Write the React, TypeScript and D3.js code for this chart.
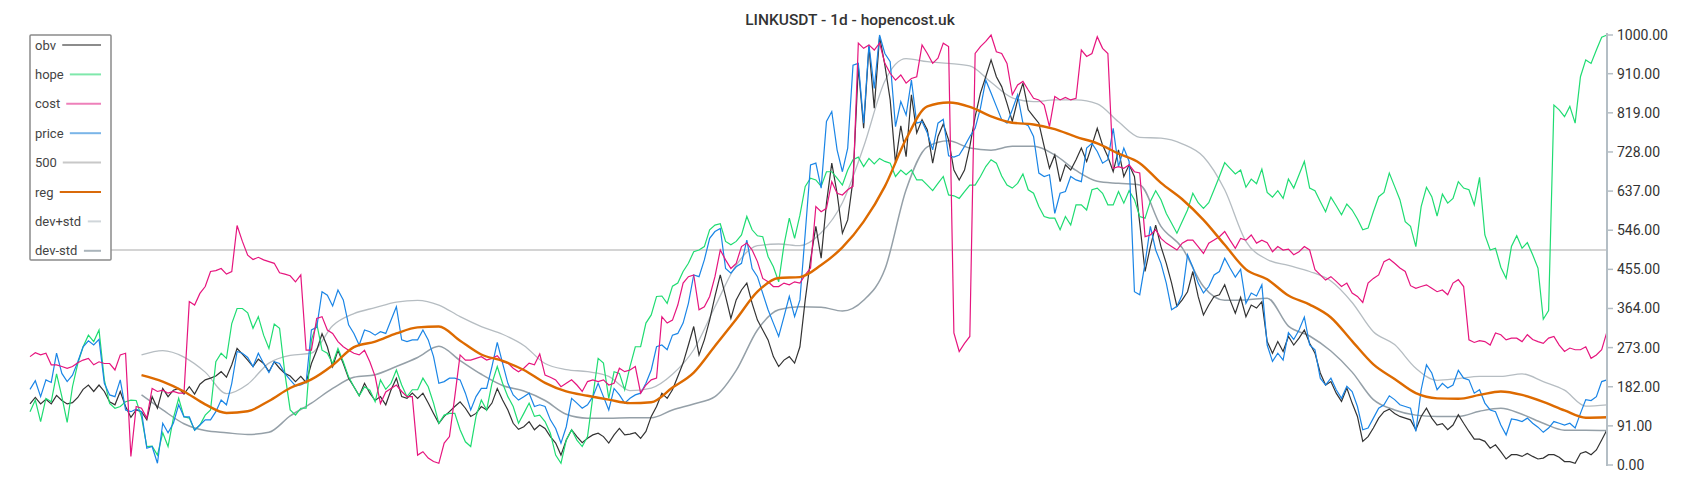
import React from "react";
import * as d3 from "d3";

const TITLE = "LINKUSDT - 1d - hopencost.uk";
const TICKS = [0, 91, 182, 273, 364, 455, 546, 637, 728, 819, 910, 1000];

const obv = [142,157,142,153,142,162,150,142,145,157,176,186,171,186,171,147,140,171,136,111,128,124,105,159,132,178,159,174,178,165,182,165,188,198,202,207,217,204,233,271,258,244,229,246,236,217,240,225,213,207,194,206,192,236,267,305,275,229,267,236,202,182,161,190,
167,150,159,140,175,202,
159,155,167,155,167,144,120,97,113,124,136,147,132,113,120,136,128,144,178,151,128,97,83,89,101,82,93,85,66,51,23,58,82,66,52,62,70,74,66,51,70,85,70,72,75,62,78,113,136,167,155,175,206,237,279,322,256,291,337,392,442,392,341,384,407,423,376,337,314,291,252,229,244,252,237,275,
384,477,555,481,609,702,632,539,570,663,926,783,973,830,996,930,849,702,789,717,861,772,803,779,702,764,793,756,686,663,686,741,810,865,903,942,903,880,841,799,849,888,826,810,795,741,690,721,659,698,686,710,737,706,744,783,744,717,682,733,671,698,671,562,450,508,558,508,469,423,369,384,403,
450,
392,349,372,392,396,419,384,353,390,345,372,365,380,287,260,287,264,299,279,295,314,283,260,214,186,194,167,148,179,144,113,55,66,86,109,124,130,120,113,109,105,82,113,132,109,93,96,82,93,117,97,78,60,60,55,39,47,31,14,24,24,20,27,20,14,16,24,24,18,8,8,4,27,31,24,35,58,82];

const hope = [124,151,101,155,147,212,159,99,182,236,275,302,287,314,198,143,132,136,147,151,150,112,43,44,23,75,43,109,155,112,109,81,93,116,128,240,260,248,329,364,364,354,318,345,302,271,328,318,213,128,116,132,132,291,329,267,260,236,271,240,205,182,161,182,
174,147,198,176,190,221,
186,159,175,175,202,182,144,97,116,120,120,82,54,43,113,151,128,190,229,190,159,136,97,120,144,113,116,101,74,23,4,58,82,58,43,66,159,248,237,155,217,213,175,229,275,275,330,349,392,393,376,416,423,450,469,496,500,508,547,558,561,520,512,520,535,578,547,533,531,485,461,426,512,574,527,581,
648,667,663,648,682,682,667,651,686,710,716,694,713,700,713,706,702,671,686,675,686,663,663,651,638,655,671,628,626,620,636,651,651,671,694,710,702,672,651,644,655,677,640,632,601,578,574,574,547,578,558,605,605,593,640,644,632,605,605,636,609,638,617,578,574,613,638,617,585,562,539,566,593,
632,
610,597,610,640,671,703,690,677,686,646,665,654,688,634,623,638,620,665,644,675,706,644,638,613,589,623,603,582,607,593,572,547,551,589,624,634,679,648,617,566,555,508,601,646,624,579,630,609,620,659,644,640,605,669,535,500,504,460,434,508,533,504,517,489,458,339,359,837,826,810,834,795,903,942,934,965,995,1000];

const cost = [252,261,256,260,233,233,229,225,229,238,244,248,233,240,236,236,221,256,260,20,136,132,109,178,171,174,167,171,167,167,380,372,399,415,450,452,457,444,450,557,520,488,478,483,477,473,469,447,444,440,426,442,267,267,341,345,314,306,287,275,267,260,256,267,
240,206,143,170,178,186,
171,159,159,23,31,16,8,4,51,66,159,256,244,244,248,252,244,248,254,240,237,225,217,225,237,233,258,209,204,198,182,190,198,186,171,194,198,194,198,186,190,225,217,221,229,167,186,198,202,345,330,337,372,423,438,442,361,368,392,438,500,477,457,469,508,516,500,473,434,426,415,415,423,419,426,423,
442,458,601,589,597,659,632,628,640,648,981,969,977,965,981,934,911,895,907,888,899,903,977,957,934,946,981,973,307,264,283,299,957,973,985,1000,961,957,934,861,884,892,872,853,849,837,787,857,849,855,849,853,965,950,957,996,969,957,690,694,690,698,682,679,531,535,547,527,516,508,500,516,523,523,
508,492,516,523,531,543,523,504,527,523,535,516,523,517,496,508,500,502,489,496,508,500,454,442,430,438,427,415,423,400,392,378,423,434,442,473,479,469,458,450,417,411,415,419,411,403,407,396,423,431,415,291,285,289,287,279,307,303,291,295,295,287,303,292,287,283,295,299,279,264,272,268,268,275,248,256,268,310];

const price = [176,196,159,198,192,260,213,194,209,240,275,289,279,292,190,163,159,198,128,124,130,124,39,43,4,97,75,97,140,112,112,81,93,105,105,124,151,140,190,264,260,250,229,260,236,215,240,236,213,198,184,186,192,314,320,403,395,370,407,384,326,306,279,314,
310,302,310,306,337,368,
291,287,291,291,314,291,252,190,194,202,202,198,167,128,159,178,178,229,285,237,190,163,151,159,167,136,140,136,105,85,51,89,155,144,132,140,159,190,159,128,178,163,144,155,163,167,190,221,275,279,268,302,306,330,376,442,438,477,527,543,550,457,446,461,469,523,457,438,399,361,330,299,345,392,345,384,
539,698,702,644,799,822,733,682,737,930,934,795,977,876,1000,957,938,787,845,814,895,795,799,772,733,795,804,719,716,721,741,764,783,830,895,865,834,803,795,826,861,795,789,764,679,671,675,585,632,636,671,663,659,737,748,729,702,710,783,694,737,706,403,396,469,555,500,469,423,361,369,396,489,
460,
423,400,415,442,450,481,458,437,455,376,400,393,419,279,241,260,244,308,292,314,344,279,268,202,186,202,175,155,183,171,136,82,86,109,132,140,161,152,140,136,132,78,175,233,214,175,190,179,186,220,202,198,167,175,144,128,124,93,70,107,105,101,109,97,88,76,86,101,97,93,97,86,120,152,150,159,194,198];

// smooth series sampled every 4th day from day 21
const SMOOTH_START = 21;
const SMOOTH_STEP = 4;
const reg = [209,194,171,141,121,125,149,179,199,232,274,287,306,320,322,289,257,242,221,191,171,161,152,144,146,180,215,277,339,403,435,437,465,506,566,648,758,834,843,833,811,796,792,781,763,748,724,702,656,618,570,512,455,432,394,373,343,288,234,200,167,155,154,163,171,163,147,127,110,111];
const devPlus = [256,266,251,216,166,188,237,255,260,324,352,366,379,383,372,345,322,304,278,236,222,217,206,173,179,211,268,368,465,510,514,510,540,610,740,893,945,938,934,928,890,854,845,849,849,840,798,762,760,747,717,640,520,478,464,450,428,378,310,280,225,197,201,206,206,212,194,174,137,140];
const devMinus = [163,128,96,80,75,71,76,114,144,178,204,210,229,250,276,243,211,185,172,150,118,109,109,110,110,128,142,159,220,314,361,368,367,358,383,455,640,740,754,737,732,741,741,721,685,660,655,651,555,505,415,383,384,388,323,300,265,216,152,128,116,113,113,125,132,118,97,81,81,80];
const LEVEL = 500;

const LEGEND = [
  { name: "obv", color: "#8c8c8c" },
  { name: "hope", color: "#7fe8ab" },
  { name: "cost", color: "#ee80ba" },
  { name: "price", color: "#7ab5e8" },
  { name: "500", color: "#c8c8c8" },
  { name: "reg", color: "#d96a0a" },
  { name: "dev+std", color: "#d0d6da" },
  { name: "dev-std", color: "#aab4bb" },
];

const FONT = "Roboto, 'Noto Sans', sans-serif";

export default function App() {
  const W = 1700, H = 500;
  const N = 298;
  const x = d3.scaleLinear().domain([0, N - 1]).range([30, 1607]);
  const y = d3.scaleLinear().domain([0, 1000]).range([465, 35]);
  const line = d3.line<number>().x((_, i) => x(i)).y((d) => y(d));
  const sline = d3.line<number>().x((_, i) => x(SMOOTH_START + i * SMOOTH_STEP)).y((d) => y(d)).curve(d3.curveMonotoneX);

  const measure = (s: string) => {
    const w: Record<string, number> = { o: 6.8, b: 6.8, v: 6, h: 6.6, p: 6.8, e: 6.4, c: 6.3, s: 6.2, t: 4, r: 4.1, i: 3, g: 6.8, d: 6.8, "+": 7, "-": 3.4, "0": 6.7, "5": 6.7 };
    return s.split("").reduce((a, ch) => a + (w[ch] ?? 6.5), 0) * 13 / 12;
  };

  return (
    <svg width={W} height={H} style={{ position: "fixed", left: 0, top: 0, background: "#fff" }} fontFamily={FONT}>
      <rect x={0} y={0} width={W} height={H} fill="#fff" />
      <text x={850} y={25} textAnchor="middle" fontSize={15.5} fontWeight={500} fill="#333">{TITLE}</text>

      <line x1={x(0)} x2={x(N - 1)} y1={y(LEVEL)} y2={y(LEVEL)} stroke="#c6c6c6" strokeWidth={1.6} />
      <path d={sline(devPlus) || ""} fill="none" stroke="#b6bdc2" strokeWidth={1.3} />
      <path d={sline(devMinus) || ""} fill="none" stroke="#95a0a8" strokeWidth={1.5} />
      <path d={line(obv) || ""} fill="none" stroke="#333333" strokeWidth={1.2} />
      <path d={line(hope) || ""} fill="none" stroke="#1fdc72" strokeWidth={1.2} />
      <path d={line(price) || ""} fill="none" stroke="#1a85e6" strokeWidth={1.2} />
      <path d={line(cost) || ""} fill="none" stroke="#e6157e" strokeWidth={1.2} />
      <path d={sline(reg) || ""} fill="none" stroke="#dd6a00" strokeWidth={2.4} />

      <line x1={1607} x2={1607} y1={33} y2={466} stroke="#b4bec5" strokeWidth={2} />
      {TICKS.map((t) => (
        <g key={t}>
          <line x1={1607} x2={1613} y1={y(t)} y2={y(t)} stroke="#b4bec5" strokeWidth={1.5} />
          <text x={1617} y={y(t)} dy="0.35em" fontSize={14} fill="#333">{t.toFixed(2)}</text>
        </g>
      ))}

      <rect x={30} y={35} width={81} height={225} fill="#fff" stroke="#8a8a8a" strokeWidth={1.5} rx={1} />
      {LEGEND.map((l, i) => {
        const cy = 45 + i * 29.4;
        const tw = measure(l.name);
        return (
          <g key={l.name}>
            <text x={35} y={cy} dy="0.35em" fontSize={13} fill="#444">{l.name}</text>
            <line x1={35 + tw + 6} x2={101} y1={cy} y2={cy} stroke={l.color} strokeWidth={2} />
          </g>
        );
      })}
    </svg>
  );
}
